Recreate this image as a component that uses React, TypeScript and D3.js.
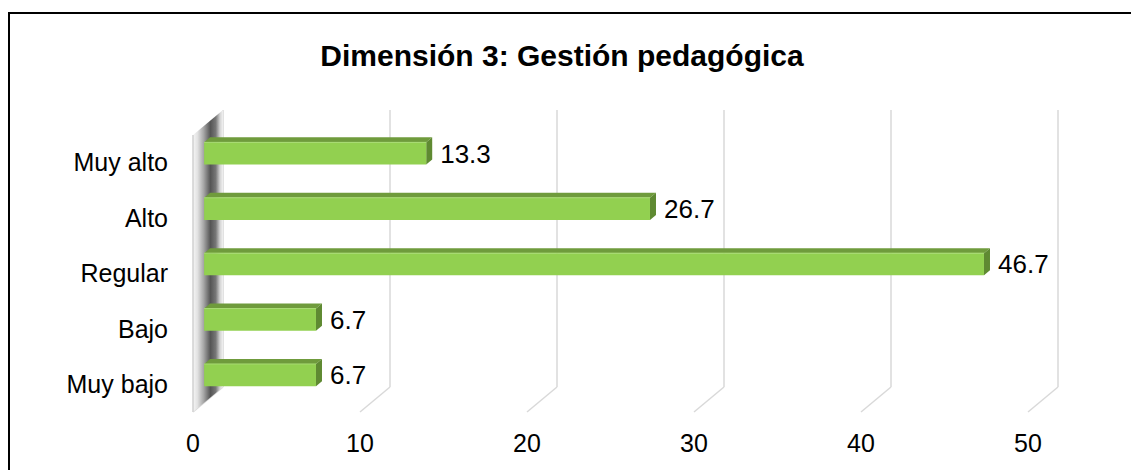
import React from "react";
import * as d3 from "d3";

const categories = ["Muy alto", "Alto", "Regular", "Bajo", "Muy bajo"];
const values = [13.3, 26.7, 46.7, 6.7, 6.7];
const ticks = [0, 10, 20, 30, 40, 50];
const title = "Dimensión 3: Gestión pedagógica";

const W = 1131;
const H = 470;
const DX = 30; // depth offset x
const DY = -25; // depth offset y

export default function App() {
  const xF = d3.scaleLinear().domain([0, 50]).range([193, 1028]);
  const yF = d3.scaleBand<string>().domain(categories).range([135, 412]).paddingInner(0.6).paddingOuter(0.3);
  const band = d3.scaleBand<string>().domain(categories).range([135, 412]);
  const f1 = 0.37, f2 = 0.57;
  const font = "Arial, 'Liberation Sans', sans-serif";
  const pt = (x: number, y: number, f: number) => `${x + DX * f},${y + DY * f}`;

  return (
    <svg width={W} height={H} style={{ position: "absolute", left: 0, top: 0, background: "#fff" }}>
      <defs>
        <linearGradient id="wallG" x1="193" x2="223" y1="0" y2="0" gradientUnits="userSpaceOnUse">
          <stop offset="0" stopColor="#f6f6f6" />
          <stop offset="0.15" stopColor="#e2e2e2" />
          <stop offset="0.35" stopColor="#a8a8a8" />
          <stop offset="0.58" stopColor="#555" />
          <stop offset="0.76" stopColor="#777" />
          <stop offset="0.9" stopColor="#d4d4d4" />
          <stop offset="1" stopColor="#f2f2f2" />
        </linearGradient>
      </defs>
      <rect x={9} y={13} width={W + 10} height={H + 10} fill="#fff" stroke="#000" strokeWidth={2} />
      <text x={562} y={66} textAnchor="middle" fontFamily={font} fontWeight="bold" fontSize={30} fill="#000">
        {title}
      </text>
      {/* gridlines: back wall verticals + floor diagonals */}
      {ticks.map((t) => (
        <g key={t} stroke="#d9d9d9" strokeWidth={1.5} fill="none">
          <line x1={xF(t) + DX} x2={xF(t) + DX} y1={412 + DY - 277} y2={412 + DY} />
          <line x1={xF(t) + DX} y1={412 + DY} x2={xF(t)} y2={412} />
        </g>
      ))}
      {/* left wall */}
      <polygon
        points={`${pt(193, 412, 0)} ${pt(193, 135, 0)} ${pt(193, 135, 1)} ${pt(193, 412, 1)}`}
        fill="url(#wallG)"
      />
      <line x1={193} x2={193} y1={135} y2={412} stroke="#d0d0d0" strokeWidth={1.5} />
      {/* bars */}
      {categories.map((c, i) => {
        const v = values[i];
        const x0 = xF(0);
        const x1 = xF(v);
        const yT = yF(c)!;
        const yB = yT + yF.bandwidth();
        const front = `${pt(x0, yT, f1)} ${pt(x1, yT, f1)} ${pt(x1, yB, f1)} ${pt(x0, yB, f1)}`;
        const top = `${pt(x0, yT, f1)} ${pt(x0, yT, f2)} ${pt(x1, yT, f2)} ${pt(x1, yT, f1)}`;
        const side = `${pt(x1, yT, f1)} ${pt(x1, yT, f2)} ${pt(x1, yB, f2)} ${pt(x1, yB, f1)}`;
        const lx = x1 + DX * f2 + 8;
        const ly = (yT + yB) / 2 + DY * f1;
        return (
          <g key={c}>
            <polygon points={top} fill="#6f9b3c" />
            <polygon points={side} fill="#5f8a32" />
            <polygon points={front} fill="#92d050" />
            <line x1={x0 + DX * f1} x2={x1 + DX * f1} y1={yT + DY * f1} y2={yT + DY * f1} stroke="#a9dc74" strokeWidth={1} />
            <text x={lx} y={ly} dy="0.35em" fontFamily={font} fontSize={26} fill="#000">
              {v.toFixed(1)}
            </text>
          </g>
        );
      })}
      {/* category labels */}
      {categories.map((c) => (
        <text key={c} x={168} y={band(c)! + band.bandwidth() / 2} dy="0.35em" textAnchor="end" fontFamily={font} fontSize={25} fill="#000">
          {c}
        </text>
      ))}
      {/* tick labels */}
      {ticks.map((t) => (
        <text key={t} x={xF(t)} y={443} dy="0.35em" textAnchor="middle" fontFamily={font} fontSize={25} fill="#000">
          {t}
        </text>
      ))}
    </svg>
  );
}
